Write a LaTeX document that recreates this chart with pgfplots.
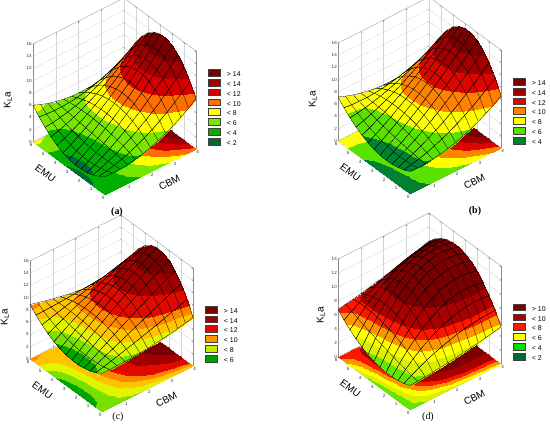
\documentclass[border=0pt]{standalone}
\usepackage{fontspec}
\setmainfont{Liberation Sans}
\newfontfamily\panelfont{Liberation Serif}
\usepackage{pgfplots}
\usepackage{pgfplotstable}
\pgfplotsset{compat=1.18}

\definecolor{ka1}{RGB}{120,0,0}\definecolor{ka2}{RGB}{160,0,0}\definecolor{ka3}{RGB}{215,0,0}\definecolor{ka4}{RGB}{255,110,0}
\definecolor{ka5}{RGB}{255,255,0}\definecolor{ka6}{RGB}{120,230,0}\definecolor{ka7}{RGB}{0,175,0}\definecolor{ka8}{RGB}{0,105,55}
\definecolor{kb4}{RGB}{220,5,0}\definecolor{kb5}{RGB}{255,130,0}\definecolor{kb7}{RGB}{90,225,0}\definecolor{kb8}{RGB}{0,130,50}
\definecolor{kc3}{RGB}{225,10,0}\definecolor{kc4}{RGB}{255,150,0}\definecolor{kc5}{RGB}{190,235,0}\definecolor{kc6}{RGB}{0,160,0}
\definecolor{kd1}{RGB}{125,0,0}\definecolor{kd2}{RGB}{170,0,0}\definecolor{kd3}{RGB}{250,25,0}\definecolor{kd5}{RGB}{0,220,0}

\pgfplotsset{
 colormap={mapA}{rgb255=(0,105,55) rgb255=(0,175,0) rgb255=(120,230,0) rgb255=(255,255,0) rgb255=(255,110,0) rgb255=(215,0,0) rgb255=(160,0,0) rgb255=(120,0,0) rgb255=(120,0,0)},
 colormap={mapB}{rgb255=(0,130,50) rgb255=(0,130,50) rgb255=(0,130,50) rgb255=(0,130,50) rgb255=(90,225,0) rgb255=(90,225,0) rgb255=(255,255,0) rgb255=(255,255,0) rgb255=(255,130,0) rgb255=(255,130,0) rgb255=(220,5,0) rgb255=(220,5,0) rgb255=(160,0,0) rgb255=(160,0,0) rgb255=(120,0,0) rgb255=(120,0,0) rgb255=(120,0,0)},
 colormap={mapC}{rgb255=(0,120,45) rgb255=(0,120,45) rgb255=(0,120,45) rgb255=(0,120,45) rgb255=(0,120,45) rgb255=(0,165,0) rgb255=(120,225,0) rgb255=(225,245,0) rgb255=(255,195,0) rgb255=(255,135,0) rgb255=(225,10,0) rgb255=(225,10,0) rgb255=(160,0,0) rgb255=(160,0,0) rgb255=(120,0,0) rgb255=(120,0,0) rgb255=(120,0,0)},
 colormap={mapD}{rgb255=(0,105,55) rgb255=(0,105,55) rgb255=(0,195,0) rgb255=(100,230,0) rgb255=(215,240,0) rgb255=(255,255,0) rgb255=(255,150,0) rgb255=(250,25,0) rgb255=(170,0,0) rgb255=(170,0,0) rgb255=(125,0,0) rgb255=(125,0,0) rgb255=(125,0,0) rgb255=(125,0,0) rgb255=(125,0,0)},
 rsm/.style={
  x={(22.75bp,11.5bp)}, y={(-12bp,8.83bp)},
  xmin=0,xmax=4,ymin=0,ymax=6,zmin=0,
  xtick={1,2,3,4}, ytick={0,1,...,6},
  grid=major, grid style={black!17,line width=0.3pt},
  axis line style={black!45,line width=0.35pt},
  tick style={black!45,line width=0.3pt},
  major tick length=1.5bp,
  tick label style={font=\fontsize{4.6}{5}\selectfont, text=black!80, inner sep=1bp},
  /pgf/number format/assume math mode=true,
  label style={font=\fontsize{7.5}{8.5}\selectfont, text=black!85},
  xlabel={CBM}, ylabel={EMU}, zlabel={K$_{\mathrm{L}}$a},
  every axis x label/.style={at={(axis cs:2.12,-1.35,0)},anchor=center,sloped like x axis},
  every axis y label/.style={at={(axis cs:-0.8,3.45,0)},anchor=center,sloped like y axis},
  every axis z label/.style={at={(axis cs:0,6,0)},xshift=-25bp,yshift=42bp,rotate=90,anchor=center},
  colormap access=piecewise constant,
  point meta min=0,
  z buffer=sort,
  anchor=origin,
  legend cell align=left,
  legend image code/.code={\draw[##1,draw=black!75,line width=0.3pt] (0bp,-1.1bp) rectangle (11.5bp,5.7bp);},
  legend style={at={(axis cs:4,0,0)},anchor=south west,xshift=12bp,draw=none,fill=none,inner sep=0pt,row sep=-1.2bp,font=\fontsize{7}{8}\selectfont,/tikz/every odd column/.append style={column sep=5bp}},
 },
 floorplot/.style={surf, shader=interp, mesh/ordering=y varies, mesh/rows=13, forget plot},
 surfplot/.style={surf, shader=faceted interp, faceted color=black, line width=0.27pt, mesh/ordering=y varies, mesh/rows=13, forget plot},
}

\pgfplotstableread{
x y z
0 0 3.00
0 0.5 2.33
0 1 1.83
0 1.5 1.50
0 2 1.33
0 2.5 1.33
0 3 1.50
0 3.5 1.83
0 4 2.33
0 4.5 3.00
0 5 3.83
0 5.5 4.83
0 6 6.00
0.3333 0 2.94
0.3333 0.5 2.55
0.3333 1 2.27
0.3333 1.5 2.10
0.3333 2 2.04
0.3333 2.5 2.09
0.3333 3 2.24
0.3333 3.5 2.51
0.3333 4 2.89
0.3333 4.5 3.37
0.3333 5 3.97
0.3333 5.5 4.67
0.3333 6 5.49
0.6667 0 2.98
0.6667 0.5 2.85
0.6667 1 2.79
0.6667 1.5 2.77
0.6667 2 2.81
0.6667 2.5 2.90
0.6667 3 3.05
0.6667 3.5 3.25
0.6667 4 3.50
0.6667 4.5 3.81
0.6667 5 4.17
0.6667 5.5 4.59
0.6667 6 5.06
1 0 3.10
1 0.5 3.24
1 1 3.37
1 1.5 3.51
1 2 3.64
1 2.5 3.78
1 3 3.91
1 3.5 4.05
1 4 4.18
1 4.5 4.32
1 5 4.45
1 5.5 4.59
1 6 4.73
1.3333 0 3.31
1.3333 0.5 3.70
1.3333 1 4.03
1.3333 1.5 4.31
1.3333 2 4.54
1.3333 2.5 4.72
1.3333 3 4.84
1.3333 3.5 4.91
1.3333 4 4.93
1.3333 4.5 4.90
1.3333 5 4.81
1.3333 5.5 4.67
1.3333 6 4.48
1.6667 0 3.61
1.6667 0.5 4.24
1.6667 1 4.76
1.6667 1.5 5.18
1.6667 2 5.50
1.6667 2.5 5.72
1.6667 3 5.83
1.6667 3.5 5.83
1.6667 4 5.74
1.6667 4.5 5.54
1.6667 5 5.24
1.6667 5.5 4.83
1.6667 6 4.32
2 0 4.00
2 0.5 4.86
2 1 5.57
2 1.5 6.13
2 2 6.53
2 2.5 6.78
2 3 6.88
2 3.5 6.82
2 4 6.61
2 4.5 6.25
2 5 5.74
2 5.5 5.07
2 6 4.25
2.3333 0 4.48
2.3333 0.5 5.56
2.3333 1 6.45
2.3333 1.5 7.13
2.3333 2 7.62
2.3333 2.5 7.90
2.3333 3 7.99
2.3333 3.5 7.87
2.3333 4 7.55
2.3333 4.5 7.03
2.3333 5 6.31
2.3333 5.5 5.39
2.3333 6 4.27
2.6667 0 5.04
2.6667 0.5 6.35
2.6667 1 7.40
2.6667 1.5 8.21
2.6667 2 8.77
2.6667 2.5 9.09
2.6667 3 9.16
2.6667 3.5 8.98
2.6667 4 8.55
2.6667 4.5 7.88
2.6667 5 6.96
2.6667 5.5 5.79
2.6667 6 4.38
3 0 5.70
3 0.5 7.21
3 1 8.43
3 1.5 9.36
3 2 9.99
3 2.5 10.34
3 3 10.39
3 3.5 10.15
3 4 9.62
3 4.5 8.79
3 5 7.68
3 5.5 6.27
3 6 4.58
3.3333 0 6.44
3.3333 0.5 8.15
3.3333 1 9.53
3.3333 1.5 10.57
3.3333 2 11.28
3.3333 2.5 11.65
3.3333 3 11.68
3.3333 3.5 11.38
3.3333 4 10.75
3.3333 4.5 9.78
3.3333 5 8.47
3.3333 5.5 6.84
3.3333 6 4.86
3.6667 0 7.28
3.6667 0.5 9.18
3.6667 1 10.70
3.6667 1.5 11.85
3.6667 2 12.62
3.6667 2.5 13.02
3.6667 3 13.04
3.6667 3.5 12.68
3.6667 4 11.94
3.6667 4.5 10.83
3.6667 5 9.34
3.6667 5.5 7.48
3.6667 6 5.24
4 0 8.20
4 0.5 10.28
4 1 11.95
4 1.5 13.20
4 2 14.03
4 2.5 14.45
4 3 14.45
4 3.5 14.03
4 4 13.20
4 4.5 11.95
4 5 10.28
4 5.5 8.20
4 6 5.70
}\tabA

\pgfplotstableread{
x y z
0 0 3.70
0 0.5 3.23
0 1 2.89
0 1.5 2.70
0 2 2.64
0 2.5 2.73
0 3 2.95
0 3.5 3.31
0 4 3.81
0 4.5 4.45
0 5 5.23
0 5.5 6.14
0 6 7.20
0.3333 0 3.66
0.3333 0.5 3.47
0.3333 1 3.37
0.3333 1.5 3.34
0.3333 2 3.39
0.3333 2.5 3.53
0.3333 3 3.74
0.3333 3.5 4.04
0.3333 4 4.41
0.3333 4.5 4.86
0.3333 5 5.39
0.3333 5.5 6.01
0.3333 6 6.70
0.6667 0 3.69
0.6667 0.5 3.78
0.6667 1 3.90
0.6667 1.5 4.03
0.6667 2 4.19
0.6667 2.5 4.37
0.6667 3 4.58
0.6667 3.5 4.80
0.6667 4 5.05
0.6667 4.5 5.32
0.6667 5 5.62
0.6667 5.5 5.94
0.6667 6 6.28
1 0 3.81
1 0.5 4.17
1 1 4.49
1 1.5 4.78
1 2 5.03
1 2.5 5.26
1 3 5.45
1 3.5 5.61
1 4 5.74
1 4.5 5.84
1 5 5.90
1 5.5 5.94
1 6 5.94
1.3333 0 4.01
1.3333 0.5 4.62
1.3333 1 5.14
1.3333 1.5 5.57
1.3333 2 5.92
1.3333 2.5 6.19
1.3333 3 6.37
1.3333 3.5 6.46
1.3333 4 6.48
1.3333 4.5 6.40
1.3333 5 6.25
1.3333 5.5 6.00
1.3333 6 5.68
1.6667 0 4.29
1.6667 0.5 5.13
1.6667 1 5.84
1.6667 1.5 6.42
1.6667 2 6.85
1.6667 2.5 7.16
1.6667 3 7.33
1.6667 3.5 7.36
1.6667 4 7.26
1.6667 4.5 7.02
1.6667 5 6.65
1.6667 5.5 6.14
1.6667 6 5.50
2 0 4.65
2 0.5 5.72
2 1 6.61
2 1.5 7.31
2 2 7.83
2 2.5 8.17
2 3 8.33
2 3.5 8.30
2 4 8.08
2 4.5 7.69
2 5 7.11
2 5.5 6.35
2 6 5.40
2.3333 0 5.09
2.3333 0.5 6.38
2.3333 1 7.43
2.3333 1.5 8.26
2.3333 2 8.86
2.3333 2.5 9.23
2.3333 3 9.37
2.3333 3.5 9.28
2.3333 4 8.96
2.3333 4.5 8.41
2.3333 5 7.63
2.3333 5.5 6.62
2.3333 6 5.38
2.6667 0 5.61
2.6667 0.5 7.10
2.6667 1 8.32
2.6667 1.5 9.26
2.6667 2 9.93
2.6667 2.5 10.33
2.6667 3 10.45
2.6667 3.5 10.30
2.6667 4 9.88
2.6667 4.5 9.18
2.6667 5 8.21
2.6667 5.5 6.96
2.6667 6 5.44
3 0 6.21
3 0.5 7.89
3 1 9.26
3 1.5 10.31
3 2 11.05
3 2.5 11.47
3 3 11.58
3 3.5 11.37
3 4 10.84
3 4.5 10.00
3 5 8.84
3 5.5 7.37
3 6 5.59
3.3333 0 6.89
3.3333 0.5 8.76
3.3333 1 10.26
3.3333 1.5 11.42
3.3333 2 12.21
3.3333 2.5 12.65
3.3333 3 12.74
3.3333 3.5 12.47
3.3333 4 11.85
3.3333 4.5 10.87
3.3333 5 9.54
3.3333 5.5 7.85
3.3333 6 5.81
3.6667 0 7.66
3.6667 0.5 9.69
3.6667 1 11.32
3.6667 1.5 12.57
3.6667 2 13.42
3.6667 2.5 13.88
3.6667 3 13.95
3.6667 3.5 13.63
3.6667 4 12.91
3.6667 4.5 11.80
3.6667 5 10.30
3.6667 5.5 8.40
3.6667 6 6.12
4 0 8.50
4 0.5 10.69
4 1 12.44
4 1.5 13.78
4 2 14.68
4 2.5 15.15
4 3 15.20
4 3.5 14.82
4 4 14.01
4 4.5 12.78
4 5 11.11
4 5.5 9.02
4 6 6.50
}\tabB

\pgfplotstableread{
x y z
0 0 6.30
0 0.5 5.72
0 1 5.29
0 1.5 5.00
0 2 4.86
0 2.5 4.86
0 3 5.00
0 3.5 5.29
0 4 5.72
0 4.5 6.30
0 5 7.02
0 5.5 7.89
0 6 8.90
0.3333 0 6.29
0.3333 0.5 6.03
0.3333 1 5.86
0.3333 1.5 5.76
0.3333 2 5.75
0.3333 2.5 5.82
0.3333 3 5.96
0.3333 3.5 6.19
0.3333 4 6.50
0.3333 4.5 6.89
0.3333 5 7.37
0.3333 5.5 7.92
0.3333 6 8.56
0.6667 0 6.30
0.6667 0.5 6.35
0.6667 1 6.42
0.6667 1.5 6.51
0.6667 2 6.62
0.6667 2.5 6.75
0.6667 3 6.90
0.6667 3.5 7.07
0.6667 4 7.27
0.6667 4.5 7.48
0.6667 5 7.71
0.6667 5.5 7.96
0.6667 6 8.24
1 0 6.34
1 0.5 6.68
1 1 6.99
1 1.5 7.25
1 2 7.48
1 2.5 7.67
1 3 7.82
1 3.5 7.93
1 4 8.01
1 4.5 8.05
1 5 8.05
1 5.5 8.02
1 6 7.94
1.3333 0 6.41
1.3333 0.5 7.03
1.3333 1 7.55
1.3333 1.5 7.98
1.3333 2 8.32
1.3333 2.5 8.56
1.3333 3 8.71
1.3333 3.5 8.77
1.3333 4 8.74
1.3333 4.5 8.61
1.3333 5 8.39
1.3333 5.5 8.08
1.3333 6 7.68
1.6667 0 6.51
1.6667 0.5 7.38
1.6667 1 8.11
1.6667 1.5 8.70
1.6667 2 9.14
1.6667 2.5 9.43
1.6667 3 9.58
1.6667 3.5 9.59
1.6667 4 9.45
1.6667 4.5 9.16
1.6667 5 8.73
1.6667 5.5 8.16
1.6667 6 7.44
2 0 6.63
2 0.5 7.74
2 1 8.67
2 1.5 9.40
2 2 9.94
2 2.5 10.28
2 3 10.43
2 3.5 10.38
2 4 10.14
2 4.5 9.70
2 5 9.07
2 5.5 8.24
2 6 7.23
2.3333 0 6.77
2.3333 0.5 8.12
2.3333 1 9.23
2.3333 1.5 10.10
2.3333 2 10.72
2.3333 2.5 11.10
2.3333 3 11.25
2.3333 3.5 11.15
2.3333 4 10.81
2.3333 4.5 10.23
2.3333 5 9.41
2.3333 5.5 8.34
2.3333 6 7.04
2.6667 0 6.94
2.6667 0.5 8.51
2.6667 1 9.79
2.6667 1.5 10.78
2.6667 2 11.49
2.6667 2.5 11.91
2.6667 3 12.04
2.6667 3.5 11.90
2.6667 4 11.46
2.6667 4.5 10.74
2.6667 5 9.74
2.6667 5.5 8.45
2.6667 6 6.88
3 0 7.14
3 0.5 8.91
3 1 10.34
3 1.5 11.45
3 2 12.23
3 2.5 12.69
3 3 12.82
3 3.5 12.62
3 4 12.10
3 4.5 11.25
3 5 10.07
3 5.5 8.57
3 6 6.74
3.3333 0 7.37
3.3333 0.5 9.31
3.3333 1 10.90
3.3333 1.5 12.11
3.3333 2 12.96
3.3333 2.5 13.45
3.3333 3 13.57
3.3333 3.5 13.33
3.3333 4 12.72
3.3333 4.5 11.74
3.3333 5 10.41
3.3333 5.5 8.70
3.3333 6 6.64
3.6667 0 7.62
3.6667 0.5 9.74
3.6667 1 11.45
3.6667 1.5 12.76
3.6667 2 13.67
3.6667 2.5 14.19
3.6667 3 14.30
3.6667 3.5 14.01
3.6667 4 13.32
3.6667 4.5 12.23
3.6667 5 10.74
3.6667 5.5 8.85
3.6667 6 6.56
4 0 7.90
4 0.5 10.17
4 1 12.00
4 1.5 13.40
4 2 14.37
4 2.5 14.90
4 3 15.00
4 3.5 14.67
4 4 13.90
4 4.5 12.70
4 5 11.07
4 5.5 9.00
4 6 6.50
}\tabC

\pgfplotstableread{
x y z
0 0 3.50
0 0.5 3.16
0 1 2.94
0 1.5 2.83
0 2 2.82
0 2.5 2.93
0 3 3.15
0 3.5 3.48
0 4 3.92
0 4.5 4.48
0 5 5.14
0 5.5 5.91
0 6 6.80
0.3333 0 3.57
0.3333 0.5 3.78
0.3333 1 3.99
0.3333 1.5 4.22
0.3333 2 4.47
0.3333 2.5 4.73
0.3333 3 5.01
0.3333 3.5 5.30
0.3333 4 5.61
0.3333 4.5 5.93
0.3333 5 6.27
0.3333 5.5 6.62
0.3333 6 6.99
0.6667 0 3.66
0.6667 0.5 4.33
0.6667 1 4.94
0.6667 1.5 5.47
0.6667 2 5.94
0.6667 2.5 6.34
0.6667 3 6.67
0.6667 3.5 6.93
0.6667 4 7.12
0.6667 4.5 7.24
0.6667 5 7.29
0.6667 5.5 7.28
0.6667 6 7.19
1 0 3.76
1 0.5 4.84
1 1 5.78
1 1.5 6.57
1 2 7.23
1 2.5 7.74
1 3 8.12
1 3.5 8.35
1 4 8.45
1 4.5 8.40
1 5 8.21
1 5.5 7.88
1 6 7.41
1.3333 0 3.88
1.3333 0.5 5.29
1.3333 1 6.51
1.3333 1.5 7.52
1.3333 2 8.34
1.3333 2.5 8.95
1.3333 3 9.37
1.3333 3.5 9.58
1.3333 4 9.59
1.3333 4.5 9.41
1.3333 5 9.02
1.3333 5.5 8.43
1.3333 6 7.64
1.6667 0 4.01
1.6667 0.5 5.69
1.6667 1 7.13
1.6667 1.5 8.32
1.6667 2 9.27
1.6667 2.5 9.96
1.6667 3 10.41
1.6667 3.5 10.61
1.6667 4 10.56
1.6667 4.5 10.27
1.6667 5 9.72
1.6667 5.5 8.93
1.6667 6 7.89
2 0 4.15
2 0.5 6.04
2 1 7.65
2 1.5 8.98
2 2 10.02
2 2.5 10.78
2 3 11.25
2 3.5 11.44
2 4 11.35
2 4.5 10.98
2 5 10.32
2 5.5 9.38
2 6 8.15
2.3333 0 4.31
2.3333 0.5 6.34
2.3333 1 8.06
2.3333 1.5 9.48
2.3333 2 10.59
2.3333 2.5 11.39
2.3333 3 11.89
2.3333 3.5 12.08
2.3333 4 11.96
2.3333 4.5 11.53
2.3333 5 10.80
2.3333 5.5 9.77
2.3333 6 8.42
2.6667 0 4.48
2.6667 0.5 6.58
2.6667 1 8.36
2.6667 1.5 9.83
2.6667 2 10.98
2.6667 2.5 11.81
2.6667 3 12.32
2.6667 3.5 12.51
2.6667 4 12.39
2.6667 4.5 11.95
2.6667 5 11.19
2.6667 5.5 10.11
2.6667 6 8.71
3 0 4.66
3 0.5 6.77
3 1 8.56
3 1.5 10.03
3 2 11.19
3 2.5 12.02
3 3 12.54
3 3.5 12.75
3 4 12.64
3 4.5 12.21
3 5 11.46
3 5.5 10.39
3 6 9.01
3.3333 0 4.86
3.3333 0.5 6.91
3.3333 1 8.65
3.3333 1.5 10.08
3.3333 2 11.21
3.3333 2.5 12.04
3.3333 3 12.57
3.3333 3.5 12.79
3.3333 4 12.70
3.3333 4.5 12.32
3.3333 5 11.62
3.3333 5.5 10.63
3.3333 6 9.33
3.6667 0 5.07
3.6667 0.5 6.99
3.6667 1 8.63
3.6667 1.5 9.99
3.6667 2 11.06
3.6667 2.5 11.86
3.6667 3 12.39
3.6667 3.5 12.63
3.6667 4 12.59
3.6667 4.5 12.28
3.6667 5 11.68
3.6667 5.5 10.81
3.6667 6 9.66
4 0 5.30
4 0.5 7.02
4 1 8.50
4 1.5 9.74
4 2 10.73
4 2.5 11.49
4 3 12.00
4 3.5 12.27
4 4 12.30
4 4.5 12.09
4 5 11.63
4 5.5 10.94
4 6 10.00
}\tabD

\begin{document}
\begin{tikzpicture}
\path[use as bounding box] (0bp,0bp) rectangle (550bp,435bp);

% (a)
\begin{axis}[rsm, at={(105bp,240bp)}, z={(0bp,6.125bp)}, zmax=16, ztick={0,2,...,16},
  point meta max=16, colormap name=mapA]
\addplot3[floorplot, point meta=\thisrow{z}] table[x=x,y=y,z expr=0]{\tabA};
\addplot3[surfplot, point meta=\thisrow{z}] table[x=x,y=y,z=z]{\tabA};
\addlegendimage{fill=ka1}\addlegendentry{> 14}
\addlegendimage{fill=ka2}\addlegendentry{< 14}
\addlegendimage{fill=ka3}\addlegendentry{< 12}
\addlegendimage{fill=ka4}\addlegendentry{< 10}
\addlegendimage{fill=ka5}\addlegendentry{< 8}
\addlegendimage{fill=ka6}\addlegendentry{< 6}
\addlegendimage{fill=ka7}\addlegendentry{< 4}
\addlegendimage{fill=ka8}\addlegendentry{< 2}
\end{axis}

% (b)
\begin{axis}[rsm, at={(410bp,241bp)}, z={(0bp,6.125bp)}, zmax=16, ztick={0,2,...,16},
  point meta max=16, colormap name=mapB]
\addplot3[floorplot, point meta=\thisrow{z}] table[x=x,y=y,z expr=0]{\tabB};
\addplot3[surfplot, point meta=\thisrow{z}] table[x=x,y=y,z=z]{\tabB};
\addlegendimage{fill=ka1}\addlegendentry{> 14}
\addlegendimage{fill=ka2}\addlegendentry{< 14}
\addlegendimage{fill=kb4}\addlegendentry{< 12}
\addlegendimage{fill=kb5}\addlegendentry{< 10}
\addlegendimage{fill=ka5}\addlegendentry{< 8}
\addlegendimage{fill=kb7}\addlegendentry{< 6}
\addlegendimage{fill=kb8}\addlegendentry{< 4}
\end{axis}

% (c)
\begin{axis}[rsm, at={(102bp,23bp)}, z={(0bp,6.125bp)}, zmax=16, ztick={0,2,...,16},
  point meta max=16, colormap name=mapC]
\addplot3[floorplot, point meta=\thisrow{z}] table[x=x,y=y,z expr=0]{\tabC};
\addplot3[surfplot, point meta=\thisrow{z}] table[x=x,y=y,z=z]{\tabC};
\addlegendimage{fill=ka1}\addlegendentry{> 14}
\addlegendimage{fill=ka2}\addlegendentry{< 14}
\addlegendimage{fill=kc3}\addlegendentry{< 12}
\addlegendimage{fill=kc4}\addlegendentry{< 10}
\addlegendimage{fill=kc5}\addlegendentry{< 8}
\addlegendimage{fill=kc6}\addlegendentry{< 6}
\end{axis}

% (d)
\begin{axis}[rsm, at={(410bp,25bp)}, z={(0bp,7bp)}, zmax=14, ztick={0,2,...,14},
  point meta max=14, colormap name=mapD, every axis z label/.append style={yshift=-8bp}]
\addplot3[floorplot, point meta=\thisrow{z}] table[x=x,y=y,z expr=0]{\tabD};
\addplot3[surfplot, point meta=\thisrow{z}] table[x=x,y=y,z=z]{\tabD};
\addlegendimage{fill=kd1}\addlegendentry{> 10}
\addlegendimage{fill=kd2}\addlegendentry{< 10}
\addlegendimage{fill=kd3}\addlegendentry{< 8}
\addlegendimage{fill=ka5}\addlegendentry{< 6}
\addlegendimage{fill=kd5}\addlegendentry{< 4}
\addlegendimage{fill=ka8}\addlegendentry{< 2}
\end{axis}

\node[font=\panelfont\bfseries\fontsize{10}{11}\selectfont] at (117bp,223bp) {(a)};
\node[font=\panelfont\bfseries\fontsize{10}{11}\selectfont] at (475bp,224bp) {(b)};
\node[font=\panelfont\fontsize{10}{11}\selectfont] at (118bp,18bp) {(c)};
\node[font=\panelfont\fontsize{10}{11}\selectfont] at (428bp,18bp) {(d)};
\end{tikzpicture}
\end{document}
